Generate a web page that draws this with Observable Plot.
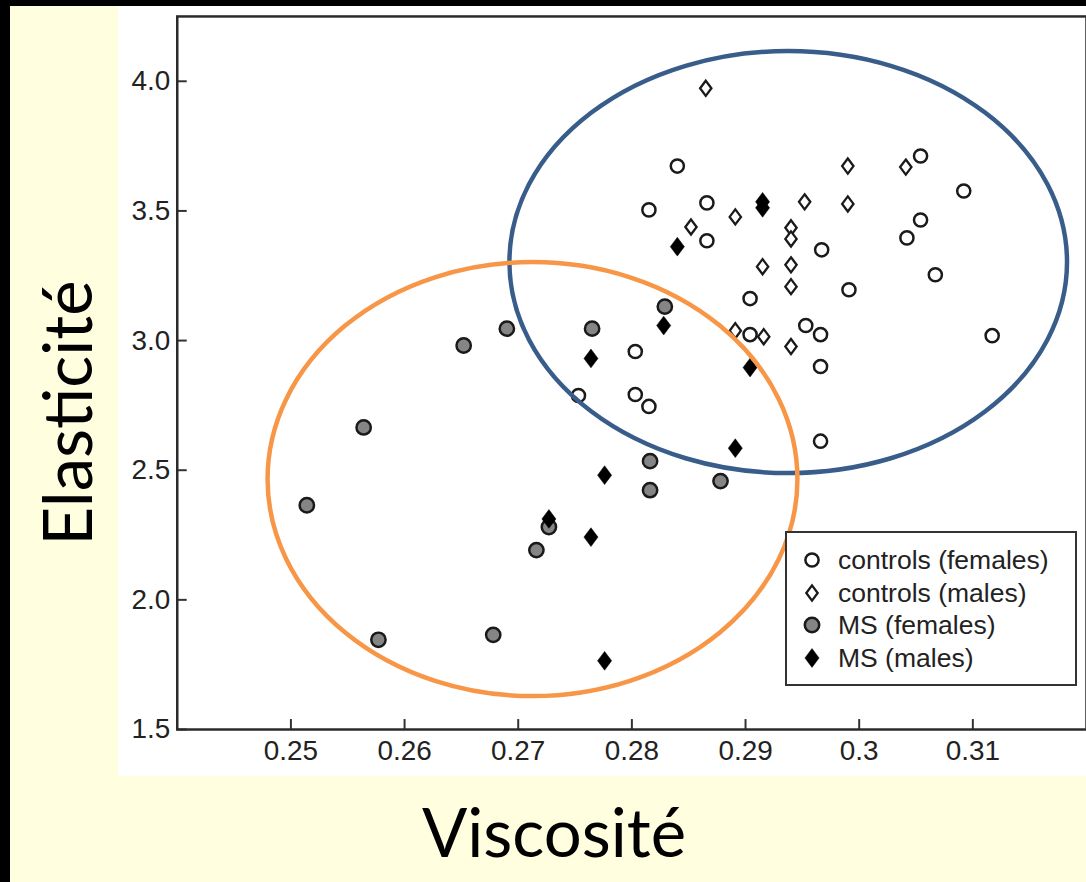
<!DOCTYPE html>
<html><head><meta charset="utf-8">
<script src="https://cdn.jsdelivr.net/npm/d3@7"></script>
<script src="https://cdn.jsdelivr.net/npm/@observablehq/plot@0.6"></script>
<style>
html,body{margin:0;padding:0;background:#000;width:1086px;height:882px;overflow:hidden;position:relative;}
#yellow{position:absolute;left:10px;top:6px;width:1076px;height:876px;background:#FFFEDF;}
#white{position:absolute;left:118px;top:6px;width:968px;height:770px;background:#fff;overflow:hidden;}
#titles{position:absolute;left:0;top:0;}
#legend{position:absolute;left:785px;top:531px;width:292px;height:155px;border:2px solid #333;background:#fff;box-sizing:border-box;font-family:"Liberation Sans",Arial,sans-serif;font-size:26.5px;color:#222;}
.row{position:absolute;left:0;height:30px;width:100%;}
.row svg{position:absolute;left:14px;top:5px;}
.row span{position:absolute;left:51px;top:0;line-height:30px;white-space:nowrap;}
</style>
</head><body>
<div id="yellow"></div>
<div id="white"></div>
<svg id="titles" width="1086" height="882"></svg>
<div id="legend"></div>
<script>
// ---- data ----
const ctrlFemX = [0.2840,0.2815,0.2866,0.2866,0.2904,0.2803,0.2753,0.2803,0.2815,0.2904,0.2953,0.2966,0.2966,0.2966,0.3054,0.3092,0.3054,0.3042,0.2967,0.3067,0.2991,0.3117];
const ctrlFemY = [3.673,3.504,3.531,3.385,3.162,2.958,2.788,2.792,2.746,3.023,3.058,3.023,2.900,2.612,3.712,3.577,3.465,3.396,3.350,3.254,3.196,3.019];

const ctrlMaleX = [0.2865,0.2891,0.2852,0.2915,0.2940,0.2940,0.2940,0.2940,0.2891,0.2916,0.2940,0.2952,0.2990,0.3041,0.2990];
const ctrlMaleY = [3.973,3.477,3.438,3.285,3.435,3.392,3.292,3.208,3.038,3.015,2.977,3.535,3.673,3.669,3.527];

const msFemX = [0.2690,0.2765,0.2829,0.2652,0.2564,0.2514,0.2716,0.2577,0.2678,0.2816,0.2878,0.2816,0.2727];
const msFemY = [3.046,3.046,3.131,2.981,2.665,2.365,2.192,1.846,1.865,2.535,2.458,2.423,2.281];

const msMaleX = [0.2915,0.2915,0.2840,0.2828,0.2764,0.2904,0.2891,0.2776,0.2727,0.2764,0.2776];
const msMaleY = [3.535,3.512,3.362,3.058,2.931,2.896,2.585,2.481,2.312,2.242,1.765];

const xTicks = [0.25,0.26,0.27,0.28,0.29,0.30,0.31];
const xTickLabels = ["0.25","0.26","0.27","0.28","0.29","0.3","0.31"];
const yTicks = [1.5,2.0,2.5,3.0,3.5,4.0];
const yTickLabels = ["1.5","2.0","2.5","3.0","3.5","4.0"];

const legendLabels = ["controls (females)","controls (males)","MS (females)","MS (males)"];

// ellipses annotated on the chart (centre and radii in data units)
const ellipseCenterX = [0.2938, 0.2713];
const ellipseCenterY = [3.301, 2.464];
const ellipseRadiusX = [0.02453, 0.02331];
const ellipseRadiusY = [0.814, 0.837];
const ellipseColors = ["#385D8A", "#F79646"];

const xLabel = "Viscosité";
const yLabel = "Elasticité";

// ---- build ----
const zip = (xs, ys) => xs.map((x, i) => ({x, y: ys[i]}));
const ctrlFem = zip(ctrlFemX, ctrlFemY);
const ctrlMale = zip(ctrlMaleX, ctrlMaleY);
const msFem = zip(msFemX, msFemY);
const msMale = zip(msMaleX, msMaleY);

const rhombus = {
  draw(ctx, size) {
    const r = Math.sqrt(size / Math.PI);
    const h = r * 1.15, w = h * 0.75;
    ctx.moveTo(0, -h); ctx.lineTo(w, 0); ctx.lineTo(0, h); ctx.lineTo(-w, 0); ctx.closePath();
  }
};

function ellipseMark(i) {
  return (index, scales, values, dimensions, context) => {
    const ns = "http://www.w3.org/2000/svg";
    const el = document.createElementNS(ns, "ellipse");
    const cx = scales.x(ellipseCenterX[i]), cy = scales.y(ellipseCenterY[i]);
    el.setAttribute("cx", cx);
    el.setAttribute("cy", cy);
    el.setAttribute("rx", Math.abs(scales.x(ellipseCenterX[i] + ellipseRadiusX[i]) - cx));
    el.setAttribute("ry", Math.abs(scales.y(ellipseCenterY[i] + ellipseRadiusY[i]) - cy));
    el.setAttribute("fill", "none");
    el.setAttribute("stroke", ellipseColors[i]);
    el.setAttribute("stroke-width", 4.5);
    return el;
  };
}

const chart = Plot.plot({
  width: 972, height: 770,
  marginLeft: 59, marginRight: 0, marginTop: 10, marginBottom: 44,
  style: {background: "transparent", fontFamily: "'Liberation Sans', Arial, sans-serif", fontSize: "28px", color: "#222"},
  x: {domain: [0.24, 0.32]},
  y: {domain: [1.5, 4.25]},
  marks: [
    Plot.axisX(xTicks, {tickSize: -10, tickPadding: 21, strokeWidth: 2, stroke: "#333", fill: "#222", fontSize: 28,
      tickFormat: d => xTickLabels[xTicks.indexOf(d)], label: null}),
    Plot.axisY(yTicks, {tickSize: -10, tickPadding: 17, strokeWidth: 2, stroke: "#333", fill: "#222", fontSize: 28,
      tickFormat: d => yTickLabels[yTicks.indexOf(d)], label: null}),
    Plot.frame({stroke: "#2a2a2a", strokeWidth: 2.5}),
    Plot.dot(ctrlFem, {x: "x", y: "y", r: 6.6, fill: "white", stroke: "#1a1a1a", strokeWidth: 2.5}),
    Plot.dot(ctrlMale, {x: "x", y: "y", r: 6.6, symbol: rhombus, fill: "white", stroke: "#1a1a1a", strokeWidth: 2.3}),
    Plot.dot(msFem, {x: "x", y: "y", r: 7.2, fill: "#858585", stroke: "#1a1a1a", strokeWidth: 2.5}),
    Plot.dot(msMale, {x: "x", y: "y", r: 8.2, symbol: rhombus, fill: "#000", stroke: "#000", strokeWidth: 0.5}),
    ellipseMark(0),
    ellipseMark(1)
  ]
});
document.getElementById("white").appendChild(chart);

// titles
const t = d3.select("#titles");
t.append("text").attr("x", 554).attr("y", 857).attr("text-anchor", "middle")
  .attr("font-family", "Lato, 'Open Sans', sans-serif").attr("font-size", 67).attr("fill", "#000").text(xLabel);
t.append("text").attr("transform", "translate(92,413) rotate(-90)").attr("text-anchor", "middle")
  .attr("font-family", "Lato, 'Open Sans', sans-serif").attr("font-size", 67).attr("fill", "#000").text(yLabel);

// legend
const legendStyles = [
  {sym: d3.symbolCircle, r: 6.6, fill: "white", stroke: "#1a1a1a", sw: 2.5},
  {sym: rhombus, r: 6.6, fill: "white", stroke: "#1a1a1a", sw: 2.3},
  {sym: d3.symbolCircle, r: 7.2, fill: "#858585", stroke: "#1a1a1a", sw: 2.5},
  {sym: rhombus, r: 8.2, fill: "#000", stroke: "#000", sw: 0.5}
];
const rowCenters = [558, 591, 623, 656];
const legend = d3.select("#legend");
legendLabels.forEach((lab, i) => {
  const s = legendStyles[i];
  const row = legend.append("div").attr("class", "row").style("top", (rowCenters[i] - 531 - 15) + "px");
  const svg = row.append("svg").attr("width", 22).attr("height", 22).style("overflow", "visible");
  svg.append("path").attr("transform", "translate(11,10)")
    .attr("d", d3.symbol(s.sym, Math.PI * s.r * s.r)())
    .attr("fill", s.fill).attr("stroke", s.stroke).attr("stroke-width", s.sw);
  row.append("span").text(lab);
});
</script>
</body></html>
